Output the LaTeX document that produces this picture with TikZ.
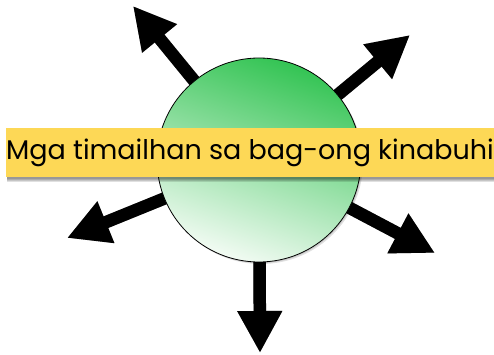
\documentclass[tikz,border=0pt]{standalone}
\usepackage{fontspec}
\setmainfont{Poppins}
\usetikzlibrary{arrows.meta,calc}
\definecolor{ballTop}{RGB}{52,196,84}
\definecolor{ballBottom}{RGB}{242,251,243}
\definecolor{bannerFill}{RGB}{253,216,86}
\tikzset{
  fatarrow/.style={line width=12.5pt,-{Triangle[length=42pt,width=42pt]}},
  arrowshadow/.style={fatarrow,black,opacity=0.13},
  ball/.style={circle,minimum size=204pt,inner sep=0pt,draw=black,line width=0.8pt,
    top color=ballTop,bottom color=ballBottom,shading angle=-20},
  banner/.style={rectangle,fill=bannerFill,minimum width=488pt,minimum height=49pt,inner sep=0pt},
  softshadow/.style={fill=black,opacity=0.12}
}
\begin{document}
\begin{tikzpicture}[x=1pt,y=-1pt]
\useasboundingbox (0,0) rectangle (494,355);
\coordinate (c) at (259,160);
\coordinate (t1) at (133,6);
\coordinate (t2) at (410,35);
\coordinate (t3) at (435,253);
\coordinate (t4) at (260,353);
\coordinate (t5) at (67,238);
% shadows of arrows
\foreach \d in {2,3,4}{
  \begin{scope}[shift={(\d,\d)}]
    \foreach \t in {t1,t2,t3,t4,t5}{
      \draw[arrowshadow] (c) -- (\t);
    }
  \end{scope}
}
% arrows
\foreach \t in {t1,t2,t3,t4,t5}{
  \draw[fatarrow] (c) -- (\t);
}
% circle shadow
\foreach \d in {1,2}{
  \fill[softshadow] ($(c)+(\d,\d)$) circle[radius=102pt];
}
\node[ball] (sphere) at (c) {};
% banner shadow
\foreach \d in {2,3,4,5}{
  \fill[softshadow] (7,128+\d) rectangle (494,177+\d);
}
\node[banner] (label) at (250,152.5) {\fontsize{27}{30}\selectfont Mga timailhan sa bag-ong kinabuhi};
\end{tikzpicture}
\end{document}
